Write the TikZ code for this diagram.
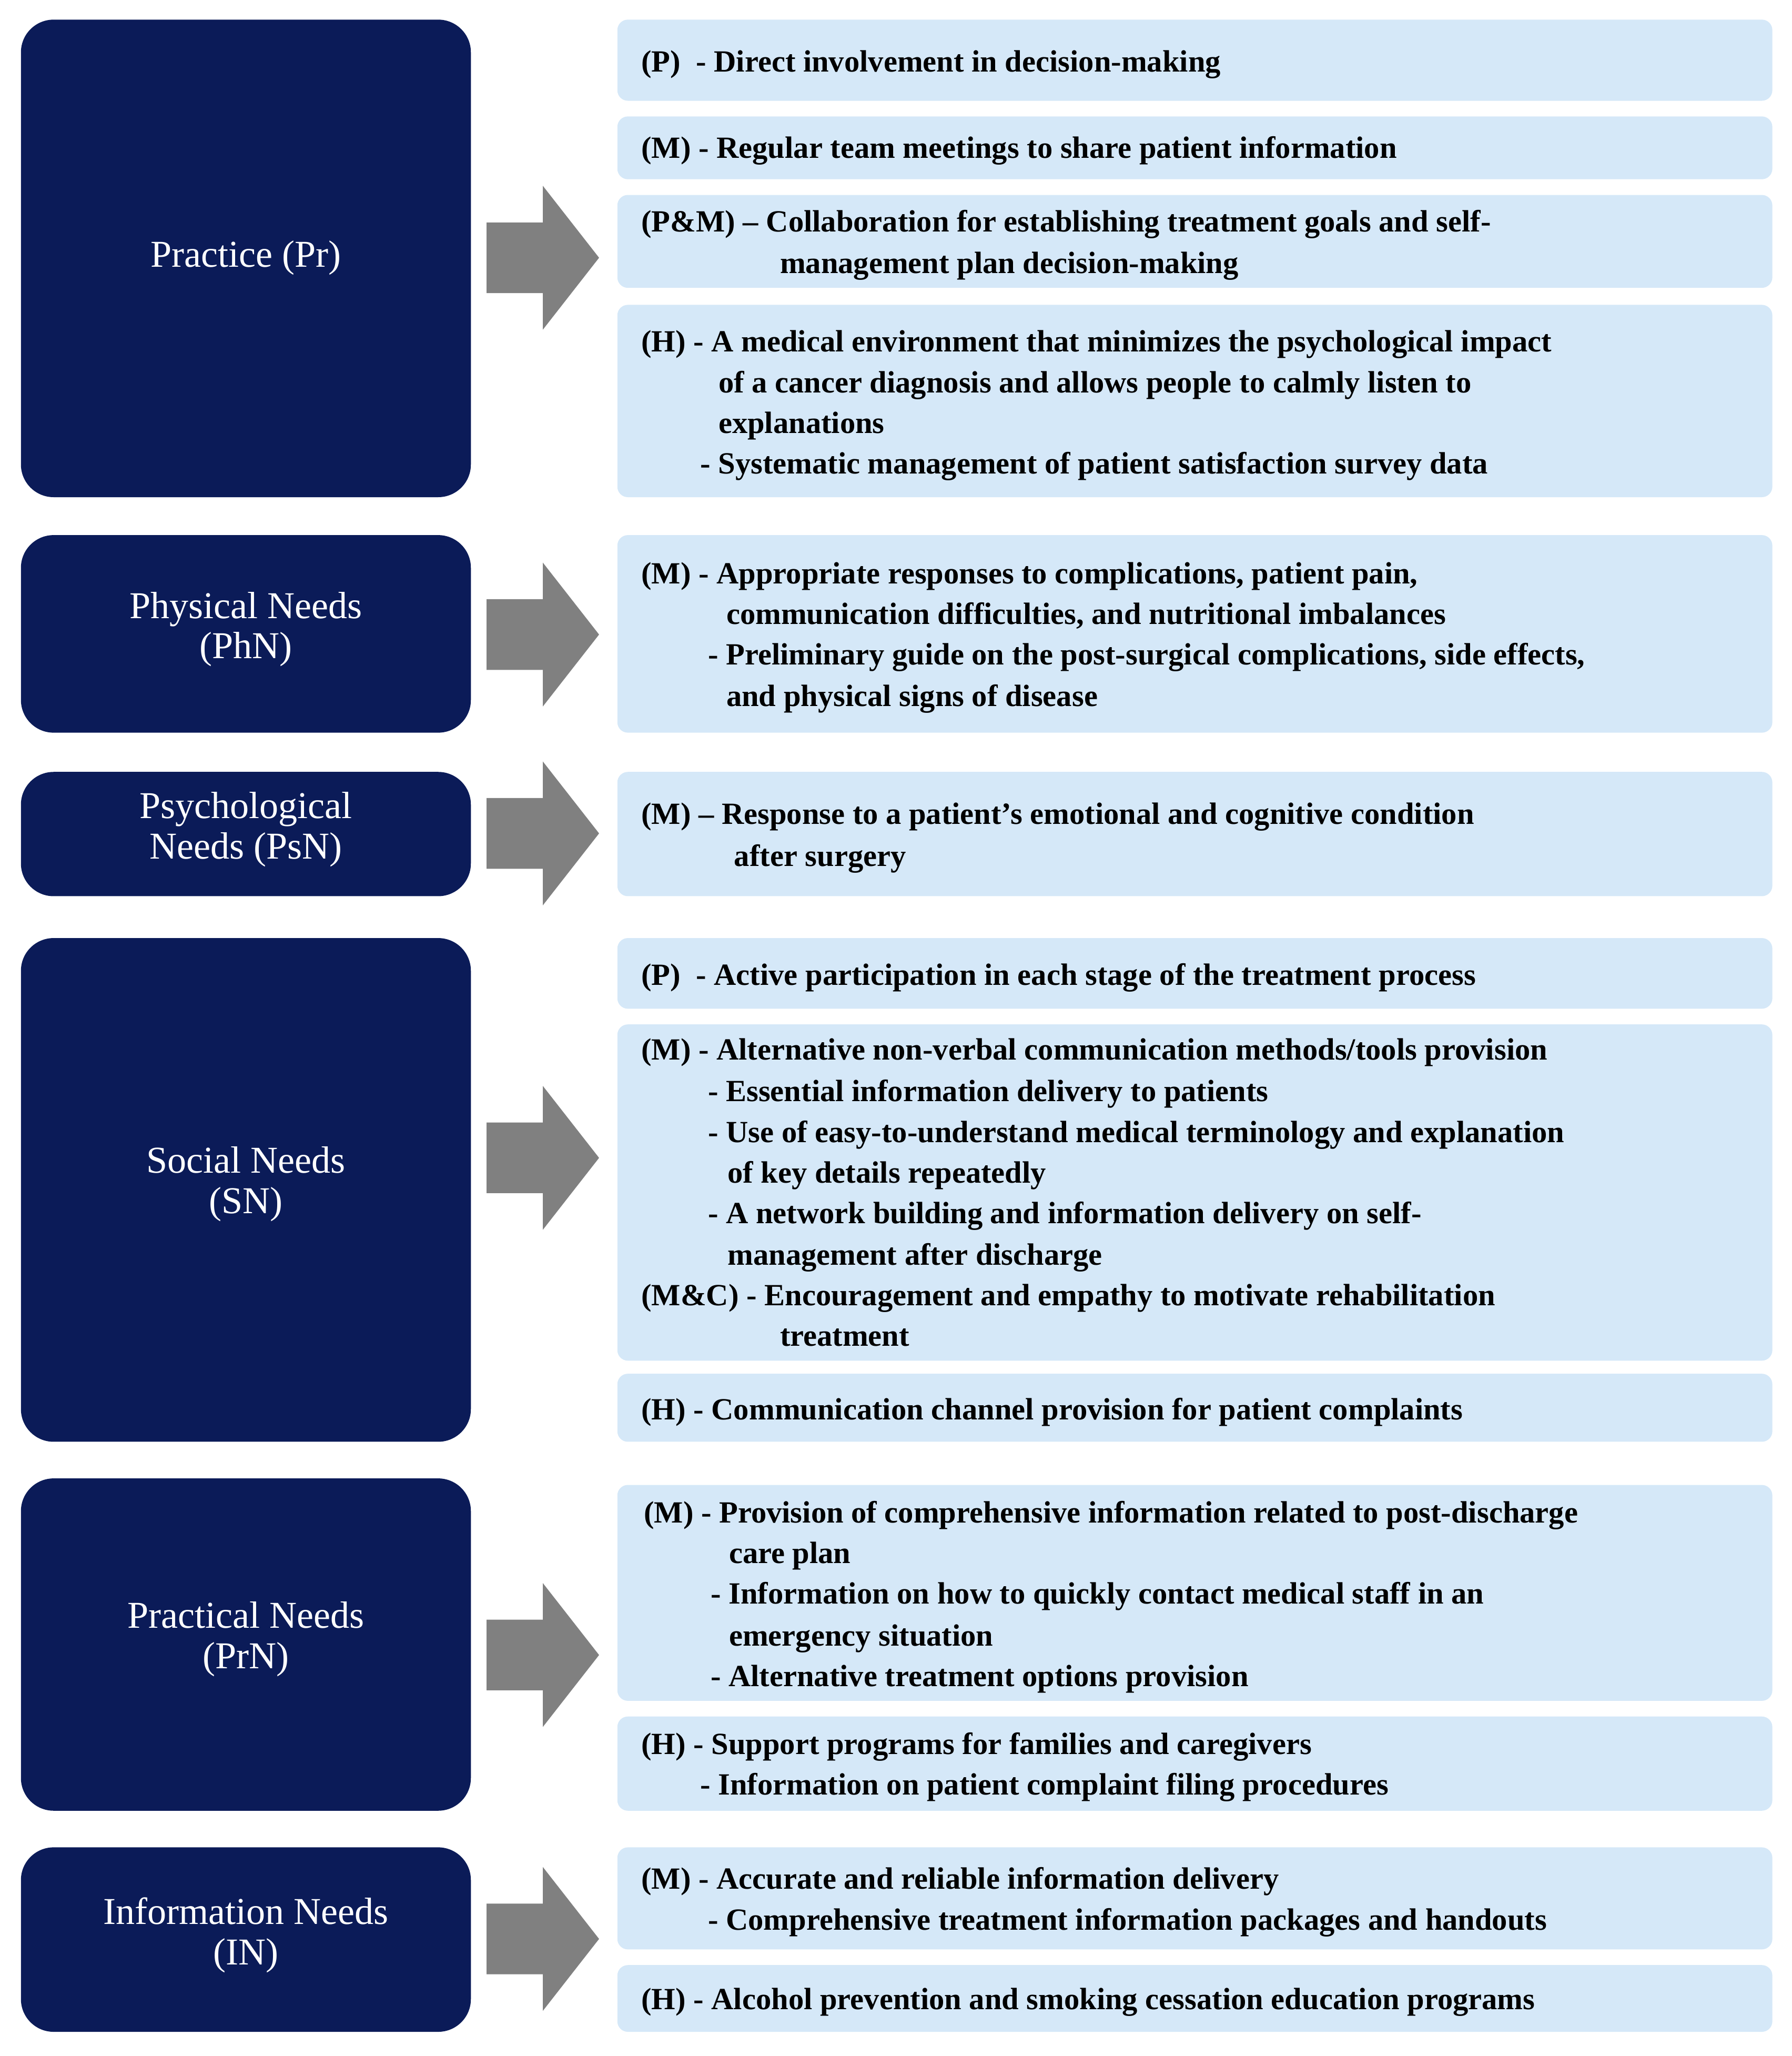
\documentclass[tikz,border=0pt]{standalone}
\usepackage{fontspec}
\setmainfont{Liberation Serif}
\definecolor{navy}{HTML}{0B1B58}
\definecolor{lblue}{HTML}{D5E8F8}
\definecolor{agray}{HTML}{808080}
\tikzset{
 catbox/.style={fill=navy,rounded corners=0.5cm},
 itembox/.style={fill=lblue,rounded corners=0.16cm},
 txt/.style={font=\fontsize{13.4pt}{15pt}\selectfont\bfseries,inner sep=0pt,anchor=base west},
 cat/.style={font=\fontsize{16.5pt}{17.6pt}\selectfont,text=white,align=center,inner sep=0pt},
 bigarrow/.style={fill=agray}
}
\newcommand{\tl}[4]{\node[txt] (#1) at (#2,{#3+8}) {#4};}
\newcommand{\harrow}[1]{\fill[bigarrow] (372,{#1-27}) -- (415,{#1-27}) -- (415,{#1-55}) -- (458,#1) -- (415,{#1+55}) -- (415,{#1+27}) -- (372,{#1+27}) -- cycle;}
\begin{document}
\begin{tikzpicture}[x=0.02cm,y=-0.02cm]
\useasboundingbox (0,0) rectangle (1370,1571.5);
% left boxes
\fill[catbox] (16,15) rectangle (360,380);
\fill[catbox] (16,409) rectangle (360,560);
\fill[catbox] (16,590) rectangle (360,685);
\fill[catbox] (16,717) rectangle (360,1102);
\fill[catbox] (16,1130) rectangle (360,1384);
\fill[catbox] (16,1412) rectangle (360,1553);
\node[cat] (c1) at (188,197) {Practice (Pr)};
\node[cat] (c2) at (188,481) {Physical Needs\\(PhN)};
\node[cat] (c3) at (188,634) {Psychological\\Needs (PsN)};
\node[cat] (c4) at (188,905) {Social Needs\\(SN)};
\node[cat] (c5) at (188,1253) {Practical Needs\\(PrN)};
\node[cat] (c6) at (188,1479) {Information Needs\\(IN)};
% arrows
\harrow{197}\harrow{485}\harrow{637}\harrow{885}\harrow{1265}\harrow{1482}
% right boxes
\fill[itembox] (472,15) rectangle (1355,77);
\fill[itembox] (472,89) rectangle (1355,137);
\fill[itembox] (472,149) rectangle (1355,220);
\fill[itembox] (472,233) rectangle (1355,380);
\fill[itembox] (472,409) rectangle (1355,560);
\fill[itembox] (472,590) rectangle (1355,685);
\fill[itembox] (472,717) rectangle (1355,771);
\fill[itembox] (472,783) rectangle (1355,1040);
\fill[itembox] (472,1050) rectangle (1355,1102);
\fill[itembox] (472,1135) rectangle (1355,1300);
\fill[itembox] (472,1312) rectangle (1355,1384);
\fill[itembox] (472,1412) rectangle (1355,1490);
\fill[itembox] (472,1502) rectangle (1355,1553);
% texts
\tl{a1}{490}{47}{(P)\ \ - Direct involvement in decision-making}
\tl{a2}{490}{113}{(M) - Regular team meetings to share patient information}
\tl{a3}{490}{169}{(P\&M) – Collaboration for establishing treatment goals and self-}
\tl{a4}{596}{201}{management plan decision-making}
\tl{a5}{490}{261}{(H) - A medical environment that minimizes the psychological impact}
\tl{a6}{549}{292}{of a cancer diagnosis and allows people to calmly listen to}
\tl{a7}{549}{323}{explanations}
\tl{a8}{535}{354}{- Systematic management of patient satisfaction survey data}
\tl{b1}{490}{438}{(M) - Appropriate responses to complications, patient pain,}
\tl{b2}{555}{469}{communication difficulties, and nutritional imbalances}
\tl{b3}{541}{500}{- Preliminary guide on the post-surgical complications, side effects,}
\tl{b4}{555}{532}{and physical signs of disease}
\tl{d1}{490}{622}{(M) – Response to a patient’s emotional and cognitive condition}
\tl{d2}{561}{654}{after surgery}
\tl{e1}{490}{745}{(P)\ \ - Active participation in each stage of the treatment process}
\tl{e2}{490}{802}{(M) - Alternative non-verbal communication methods/tools provision}
\tl{e3}{541}{834}{- Essential information delivery to patients}
\tl{e4}{541}{865}{- Use of easy-to-understand medical terminology and explanation}
\tl{e5}{556}{896}{of key details repeatedly}
\tl{e6}{541}{927}{- A network building and information delivery on self-}
\tl{e7}{556}{959}{management after discharge}
\tl{e8}{490}{990}{(M\&C) - Encouragement and empathy to motivate rehabilitation}
\tl{e9}{596}{1021}{treatment}
\tl{e10}{490}{1077}{(H) - Communication channel provision for patient complaints}
\tl{f1}{492}{1156}{(M) - Provision of comprehensive information related to post-discharge}
\tl{f2}{557}{1187}{care plan}
\tl{f3}{543}{1218}{- Information on how to quickly contact medical staff in an}
\tl{f4}{557}{1250}{emergency situation}
\tl{f5}{543}{1281}{- Alternative treatment options provision}
\tl{f6}{490}{1333}{(H) - Support programs for families and caregivers}
\tl{f7}{535}{1364}{- Information on patient complaint filing procedures}
\tl{g1}{490}{1436}{(M) - Accurate and reliable information delivery}
\tl{g2}{541}{1467}{- Comprehensive treatment information packages and handouts}
\tl{g3}{490}{1528}{(H) - Alcohol prevention and smoking cessation education programs}
\end{tikzpicture}
\end{document}
